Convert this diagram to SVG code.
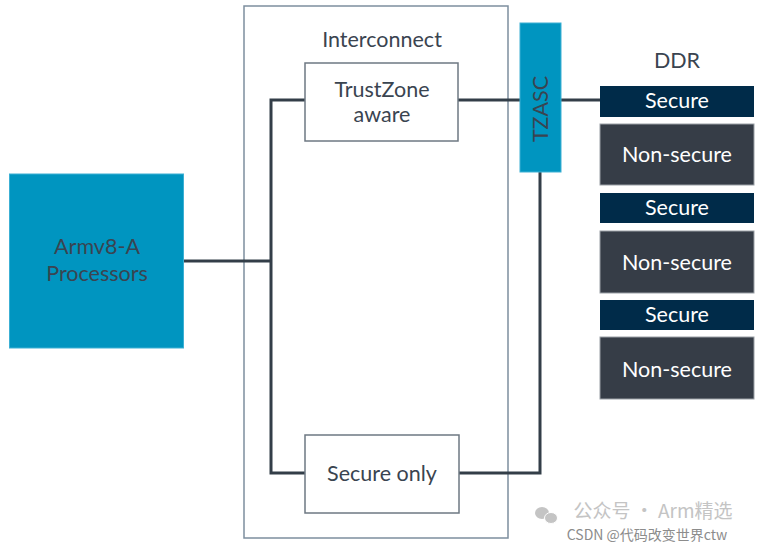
<svg xmlns="http://www.w3.org/2000/svg" width="765" height="548" viewBox="0 0 765 548">
<style>
text{font-family:Lato,"Liberation Sans","Noto Sans CJK SC",sans-serif;text-anchor:middle}
.lbl{font-size:21.5px;fill:#3a4450}
.box{fill:#fff;stroke:#6e7882;stroke-width:1.5}
.conn{fill:none;stroke:#333e48;stroke-width:3}
.sec{fill:#002b49}
.non{fill:#363d47;stroke:#9aa0a6;stroke-width:1}
.wt{font-size:21.5px;fill:#fff}
</style>
<rect width="765" height="548" fill="#fff"/>
<g id="interconnect">
<rect x="244" y="6" width="264" height="532" fill="none" stroke="#7d8e9e" stroke-width="1.5"/>
<text class="lbl" x="382" y="47">Interconnect</text>
</g>
<g id="connectors">
<path class="conn" d="M183 261H271M305 100H271V473H305"/>
<path class="conn" d="M458 100H600"/>
<path class="conn" d="M459 473H540V172"/>
</g>
<g id="processors">
<rect x="9.5" y="174" width="174" height="174" fill="#0095c0" stroke="#3cb0d4" stroke-width="1"/>
<text class="lbl" x="97" y="254">Armv8-A</text>
<text class="lbl" x="97" y="281">Processors</text>
</g>
<g id="trustzone">
<rect class="box" x="305" y="63" width="153" height="78"/>
<text class="lbl" x="382" y="97">TrustZone</text>
<text class="lbl" x="382" y="122">aware</text>
</g>
<g id="secureonly">
<rect class="box" x="305" y="435" width="154" height="78"/>
<text class="lbl" x="382" y="481">Secure only</text>
</g>
<g id="tzasc">
<rect x="520" y="23" width="41" height="149" fill="#0095c0" stroke="#3cb0d4" stroke-width="1"/>
<text class="lbl" transform="translate(548 109) rotate(-90)" font-size="20">TZASC</text>
</g>
<g id="ddr">
<text class="lbl" x="677" y="68">DDR</text>
<g id="sec1"><rect class="sec" x="600" y="86" width="154" height="31"/><text class="wt" x="677" y="108">Secure</text></g>
<g id="non1"><rect class="non" x="600" y="124" width="154" height="61"/><text class="wt" x="677" y="162">Non-secure</text></g>
<g id="sec2"><rect class="sec" x="600" y="193" width="154" height="30"/><text class="wt" x="677" y="215">Secure</text></g>
<g id="non2"><rect class="non" x="600" y="231" width="154" height="62"/><text class="wt" x="677" y="270">Non-secure</text></g>
<g id="sec3"><rect class="sec" x="600" y="300" width="154" height="30"/><text class="wt" x="677" y="322">Secure</text></g>
<g id="non3"><rect class="non" x="600" y="337" width="154" height="62"/><text class="wt" x="677" y="377">Non-secure</text></g>
</g>
<g id="watermark">
<ellipse cx="542" cy="513" rx="7" ry="6" fill="#c4c4c4"/>
<ellipse cx="551" cy="518" rx="6.5" ry="5.5" fill="#c4c4c4" stroke="#fff" stroke-width="1"/>
<text x="653" y="518" font-size="19" fill="#c4c4c4" style="font-family:'Noto Sans CJK SC',sans-serif">公众号 · Arm精选</text>
<text x="647" y="540" font-size="14" fill="#8c8c8c" style="font-family:'Noto Sans CJK SC',sans-serif">CSDN @代码改变世界ctw</text>
</g>
</svg>
